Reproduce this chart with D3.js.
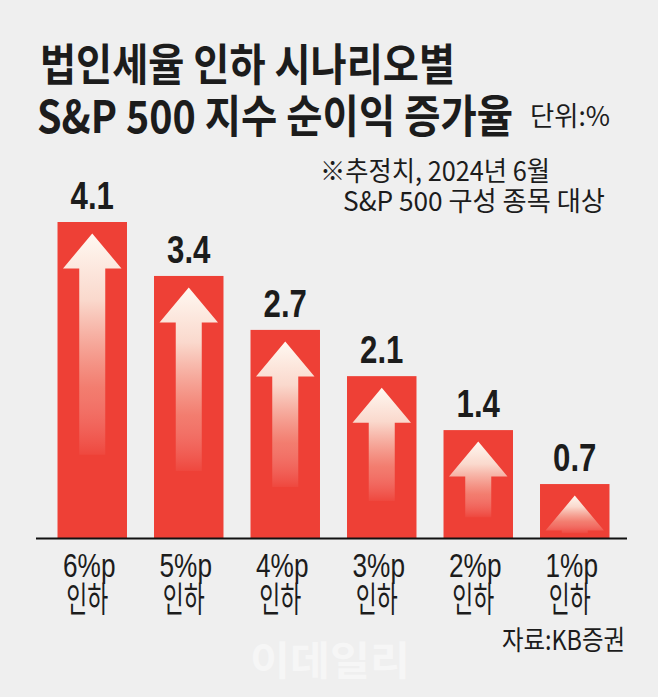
<!DOCTYPE html>
<html>
<head>
<meta charset="utf-8">
<script src="https://cdn.jsdelivr.net/npm/d3@7/dist/d3.min.js"></script>
<style>
  html, body { margin: 0; padding: 0; background: #efefef; }
  svg { display: block; }
</style>
</head>
<body>
<div id="chart"></div>
<script>
// ---- data ----
const categories = ["6%p 인하", "5%p 인하", "4%p 인하", "3%p 인하", "2%p 인하", "1%p 인하"];
const values = [4.1, 3.4, 2.7, 2.1, 1.4, 0.7];
const titleLines = ["법인세율 인하 시나리오별", "S&P 500 지수 순이익 증가율"];
const unitLabel = "단위:%";
const noteLines = ["※추정치, 2024년 6월", "S&P 500 구성 종목 대상"];
const sourceLabel = "자료:KB증권";
const watermark = "이데일리";

// ---- layout ----
const W = 658, H = 697;
const KR = "'Noto Sans CJK KR', 'Noto Sans', sans-serif";
const LAT = "'Liberation Sans', Arial, sans-serif";
const RED = "#ee4036";
const INK = "#1c1c1c";

const svg = d3.select("#chart").append("svg")
  .attr("width", W).attr("height", H);

svg.append("rect").attr("width", W).attr("height", H).attr("fill", "#efefef");

const data = categories.map((c, i) => ({ cat: c, value: values[i] }));

const x = d3.scaleBand()
  .domain(categories)
  .range([44, 623])
  .paddingInner(0.28)
  .paddingOuter(0.14);

const y = d3.scaleLinear()
  .domain([0, 4.1])
  .range([538, 222]);

// gradient for arrows
const defs = svg.append("defs");
const grad = defs.append("linearGradient")
  .attr("id", "arrowGrad")
  .attr("x1", 0).attr("y1", 0).attr("x2", 0).attr("y2", 1);
grad.append("stop").attr("offset", "0").attr("stop-color", "#fff9f2").attr("stop-opacity", 1);
grad.append("stop").attr("offset", "0.3").attr("stop-color", "#fbe6da").attr("stop-opacity", 0.92);
grad.append("stop").attr("offset", "0.7").attr("stop-color", "#f8c6b4").attr("stop-opacity", 0.45);
grad.append("stop").attr("offset", "1").attr("stop-color", "#ffffff").attr("stop-opacity", 0.04);

// title
svg.append("text")
  .attr("x", 40).attr("y", 81)
  .attr("font-family", KR).attr("font-weight", 700).attr("font-size", 44)
  .attr("fill", INK)
  .attr("textLength", 415).attr("lengthAdjust", "spacingAndGlyphs")
  .text(titleLines[0]);
svg.append("text")
  .attr("x", 37).attr("y", 133)
  .attr("font-family", KR).attr("font-weight", 700).attr("font-size", 45)
  .attr("fill", INK)
  .attr("textLength", 476).attr("lengthAdjust", "spacingAndGlyphs")
  .text(titleLines[1]);

// unit
svg.append("text")
  .attr("x", 530).attr("y", 126)
  .attr("font-family", KR).attr("font-weight", 400).attr("font-size", 27)
  .attr("fill", INK)
  .attr("textLength", 80).attr("lengthAdjust", "spacingAndGlyphs")
  .text(unitLabel);

// notes
svg.append("text")
  .attr("x", 320).attr("y", 181)
  .attr("font-family", KR).attr("font-weight", 400).attr("font-size", 27)
  .attr("fill", INK)
  .attr("textLength", 230).attr("lengthAdjust", "spacingAndGlyphs")
  .text(noteLines[0]);
svg.append("text")
  .attr("x", 343).attr("y", 211)
  .attr("font-family", KR).attr("font-weight", 400).attr("font-size", 27)
  .attr("fill", INK)
  .attr("textLength", 262).attr("lengthAdjust", "spacingAndGlyphs")
  .text(noteLines[1]);

// bars
const barG = svg.append("g");
barG.selectAll("rect.bar")
  .data(data).join("rect")
  .attr("class", "bar")
  .attr("x", d => x(d.cat))
  .attr("y", d => y(d.value))
  .attr("width", x.bandwidth())
  .attr("height", d => y(0) - y(d.value))
  .attr("fill", RED);

// arrows
const headH = 35, shaftW = 26, tipGap = 11.5, inset = 5.5;
barG.selectAll("path.arrow")
  .data(data).join("path")
  .attr("class", "arrow")
  .attr("fill", "url(#arrowGrad)")
  .attr("d", d => {
    const cx = x(d.cat) + x.bandwidth() / 2;
    const tip = y(d.value) + tipGap;
    const hw = x.bandwidth() / 2 - inset;
    const L = Math.max(headH, 0.7 * (y(0) - y(d.value)));
    const sw = shaftW / 2;
    if (L <= headH + 0.5) {
      return `M${cx},${tip}L${cx + hw},${tip + headH}L${cx - hw},${tip + headH}Z`;
    }
    return `M${cx},${tip}L${cx + hw},${tip + headH}L${cx + sw},${tip + headH}` +
           `L${cx + sw},${tip + L}L${cx - sw},${tip + L}L${cx - sw},${tip + headH}` +
           `L${cx - hw},${tip + headH}Z`;
  });

// value labels (condensed via horizontal scale)
barG.selectAll("text.val")
  .data(data).join("text")
  .attr("class", "val")
  .attr("transform", d => `translate(${x(d.cat) + x.bandwidth() / 2},${y(d.value) - 13}) scale(0.8,1)`)
  .attr("text-anchor", "middle")
  .attr("font-family", LAT).attr("font-weight", 700).attr("font-size", 39)
  .attr("fill", INK)
  .text(d => d3.format(".1f")(d.value));

// x axis
const axis = d3.axisBottom(x).tickSize(0).tickSizeOuter(0).tickFormat("");
const axG = svg.append("g").attr("transform", `translate(0,${y(0)})`).call(axis);
axG.select(".domain").remove();
axG.append("line")
  .attr("x1", 36).attr("x2", 627).attr("y1", 0.5).attr("y2", 0.5)
  .attr("stroke", "#111").attr("stroke-width", 2);

axG.selectAll(".tick").each(function(d) {
  const g = d3.select(this);
  const parts = d.split(" ");
  g.append("text")
    .attr("transform", "translate(-3,39) scale(0.77,1)")
    .attr("text-anchor", "middle")
    .attr("font-family", LAT).attr("font-weight", 400).attr("font-size", 34)
    .attr("fill", INK)
    .text(parts[0]);
  g.append("text")
    .attr("x", -5).attr("y", 74)
    .attr("text-anchor", "middle")
    .attr("font-family", KR).attr("font-weight", 400).attr("font-size", 35)
    .attr("fill", INK)
    .attr("textLength", 42).attr("lengthAdjust", "spacingAndGlyphs")
    .text(parts[1]);
});

// source
svg.append("text")
  .attr("x", 625).attr("y", 650)
  .attr("text-anchor", "end")
  .attr("font-family", KR).attr("font-weight", 400).attr("font-size", 27)
  .attr("fill", INK)
  .attr("textLength", 123).attr("lengthAdjust", "spacingAndGlyphs")
  .text(sourceLabel);

// watermark
svg.append("text")
  .attr("x", 330).attr("y", 675)
  .attr("text-anchor", "middle")
  .attr("font-family", KR).attr("font-weight", 700).attr("font-size", 40)
  .attr("fill", "#f6f6f6")
  .attr("textLength", 160).attr("lengthAdjust", "spacingAndGlyphs")
  .text(watermark);
</script>
</body>
</html>
